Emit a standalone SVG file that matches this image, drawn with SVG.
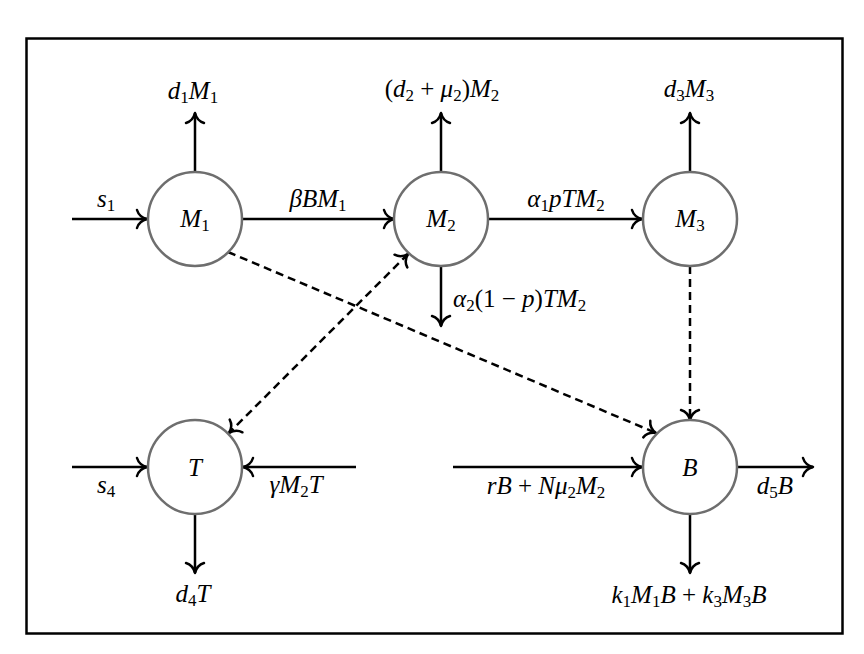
<svg xmlns="http://www.w3.org/2000/svg" width="864" height="654" viewBox="0 0 864 654">
<style>
.m{font-family:"Liberation Serif","Times New Roman",serif;font-style:italic;font-size:25px;fill:#000}
.r{font-style:normal}
.s{font-size:17px}
.node circle{fill:#fff;stroke:#6e6e6e;stroke-width:2.5}
.e{fill:none;stroke:#000;stroke-width:2.5;marker-end:url(#to)}
.d{fill:none;stroke:#000;stroke-width:2.5;stroke-dasharray:8 5;marker-end:url(#to)}
</style>
<defs>
<marker id="to" viewBox="-12 -11 14 22" refX="0" refY="0" markerWidth="14" markerHeight="22" markerUnits="userSpaceOnUse" orient="auto-start-reverse">
<path d="M-10,-9 C-8.5,-4 -4,-1 0,0 C-4,1 -8.5,4 -10,9" fill="none" stroke="#000" stroke-width="2.5" stroke-linecap="round" stroke-linejoin="round"/>
</marker>
</defs>
<rect x="26.5" y="38.5" width="816" height="595" fill="#fff" stroke="#000" stroke-width="2.5"/>
<g id="connectors">
<line class="e" x1="72" y1="219" x2="147" y2="219"/>
<line class="e" x1="195" y1="172" x2="195" y2="113"/>
<line class="e" x1="242" y1="219" x2="394" y2="219"/>
<line class="e" x1="441" y1="172" x2="441" y2="113"/>
<line class="e" x1="441" y1="266" x2="441" y2="326"/>
<line class="e" x1="488" y1="219" x2="642" y2="219"/>
<line class="e" x1="690" y1="172" x2="690" y2="113"/>
<line class="d" x1="690" y1="266" x2="690" y2="420"/>
<line class="d" x1="228" y1="252" x2="656" y2="433"/>
<line class="d" x1="408" y1="254" x2="229" y2="433" style="marker-start:url(#to)"/>
<line class="e" x1="72" y1="467" x2="147" y2="467"/>
<line class="e" x1="356" y1="467" x2="243" y2="467"/>
<line class="e" x1="195" y1="514" x2="195" y2="573"/>
<line class="e" x1="453" y1="467" x2="642" y2="467"/>
<line class="e" x1="737" y1="467" x2="813" y2="467"/>
<line class="e" x1="690" y1="514" x2="690" y2="573"/>
</g>
<g id="labels">
<text class="m" x="97" y="207">s<tspan class="s r" dy="4">1</tspan></text>
<text class="m" x="193" y="99" text-anchor="middle">d<tspan class="s r" dy="4">1</tspan><tspan dy="-4">M</tspan><tspan class="s r" dy="4">1</tspan></text>
<text class="m" x="318" y="207" text-anchor="middle">βBM<tspan class="s r" dy="4">1</tspan></text>
<text class="m" x="442" y="97" text-anchor="middle"><tspan class="r">(</tspan>d<tspan class="s r" dy="4">2</tspan><tspan class="r" dy="-4"> + </tspan>μ<tspan class="s r" dy="4">2</tspan><tspan class="r" dy="-4">)</tspan>M<tspan class="s r" dy="4">2</tspan></text>
<text class="m" x="566" y="207" text-anchor="middle">α<tspan class="s r" dy="4">1</tspan><tspan dy="-4">pTM</tspan><tspan class="s r" dy="4">2</tspan></text>
<text class="m" x="689" y="97" text-anchor="middle">d<tspan class="s r" dy="4">3</tspan><tspan dy="-4">M</tspan><tspan class="s r" dy="4">3</tspan></text>
<text class="m" x="453" y="307">α<tspan class="s r" dy="4">2</tspan><tspan class="r" dy="-4">(1 − </tspan>p<tspan class="r">)</tspan>TM<tspan class="s r" dy="4">2</tspan></text>
<text class="m" x="97" y="493">s<tspan class="s r" dy="4">4</tspan></text>
<text class="m" x="296" y="493" text-anchor="middle">γM<tspan class="s r" dy="4">2</tspan><tspan dy="-4">T</tspan></text>
<text class="m" x="193" y="602" text-anchor="middle">d<tspan class="s r" dy="4">4</tspan><tspan dy="-4">T</tspan></text>
<text class="m" x="546" y="494" text-anchor="middle">rB<tspan class="r"> + </tspan>Nμ<tspan class="s r" dy="4">2</tspan><tspan dy="-4">M</tspan><tspan class="s r" dy="4">2</tspan></text>
<text class="m" x="775" y="494" text-anchor="middle">d<tspan class="s r" dy="4">5</tspan><tspan dy="-4">B</tspan></text>
<text class="m" x="689" y="603" text-anchor="middle">k<tspan class="s r" dy="4">1</tspan><tspan dy="-4">M</tspan><tspan class="s r" dy="4">1</tspan><tspan dy="-4">B</tspan><tspan class="r"> + </tspan>k<tspan class="s r" dy="4">3</tspan><tspan dy="-4">M</tspan><tspan class="s r" dy="4">3</tspan><tspan dy="-4">B</tspan></text>
</g>
<g id="node-M1" class="node"><circle cx="195" cy="219" r="47"/><text class="m" x="195" y="227" text-anchor="middle">M<tspan class="s r" dy="4">1</tspan></text></g>
<g id="node-M2" class="node"><circle cx="441" cy="219" r="47"/><text class="m" x="441" y="227" text-anchor="middle">M<tspan class="s r" dy="4">2</tspan></text></g>
<g id="node-M3" class="node"><circle cx="690" cy="219" r="47"/><text class="m" x="690" y="227" text-anchor="middle">M<tspan class="s r" dy="4">3</tspan></text></g>
<g id="node-T" class="node"><circle cx="195" cy="467" r="47"/><text class="m" x="195" y="476" text-anchor="middle">T</text></g>
<g id="node-B" class="node"><circle cx="690" cy="467" r="47"/><text class="m" x="690" y="476" text-anchor="middle">B</text></g>
</svg>
